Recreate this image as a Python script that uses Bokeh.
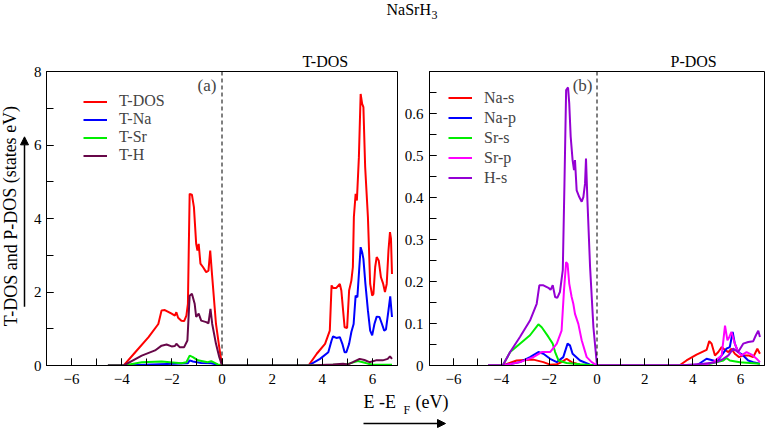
from bokeh.plotting import figure
from bokeh.models import (Range1d, Span, Legend, LegendItem, Label, Arrow,
                          NormalHead, FixedTicker)
from bokeh.layouts import column, row
from bokeh.embed import file_html
from bokeh.resources import INLINE
from bokeh.core.properties import value

FONT = "Liberation Serif"

# ---------------- data: panel (a) T-DOS ----------------
tdos_x = [-4.55, -3.92, -3.46, -2.93, -2.54, -2.41, -2.28, -2.01, -1.88, -1.82,
          -1.75, -1.62, -1.51, -1.42, -1.36, -1.29, -1.20, -1.12, -1.03, -0.98,
          -0.93, -0.86, -0.76, -0.63, -0.54, -0.47, -0.41, -0.24, -0.11, 0.0,
          3.45, 3.78, 4.11, 4.30, 4.37, 4.43, 4.56, 4.70, 4.76, 4.83,
          4.89, 4.99, 5.07, 5.16, 5.22, 5.26, 5.33, 5.38, 5.46, 5.53,
          5.59, 5.64, 5.71, 5.82, 5.91, 5.99, 6.04, 6.11, 6.17, 6.25,
          6.34, 6.43, 6.50, 6.57, 6.64, 6.70, 6.74, 6.78]
tdos_y = [0, 0, 0.36, 0.77, 1.13, 1.50, 1.51, 1.41, 1.36, 1.45,
          1.30, 1.22, 1.21, 1.36, 1.68, 4.67, 4.65, 4.31, 3.31, 3.13,
          3.31, 2.77, 2.68, 2.54, 2.58, 3.13, 2.58, 1.13, 0.50, 0.0,
          0, 0.32, 0.59, 0.95, 2.18, 2.11, 2.11, 2.22, 2.04, 1.50,
          1.04, 1.02, 2.04, 2.31, 2.68, 4.04, 4.67, 4.49, 5.67, 7.39,
          7.12, 7.03, 5.40, 4.04, 2.22, 1.90, 1.95, 2.68, 2.95, 2.86,
          2.40, 2.22, 2.00, 2.22, 3.13, 3.63, 3.45, 2.49]

tna_x = [-4.55, -3.92, -2.80, -1.88, -1.36, -1.29, -1.16, -0.83, -0.43, -0.17, 0.0,
         3.45, 3.91, 4.24, 4.37, 4.43, 4.56, 4.70, 4.80, 4.89, 4.96,
         5.07, 5.16, 5.25, 5.33, 5.40, 5.46, 5.53, 5.59, 5.64, 5.72,
         5.82, 5.91, 5.99, 6.08, 6.17, 6.28, 6.38, 6.47, 6.54, 6.64,
         6.71, 6.78]
tna_y = [0, 0, 0.03, 0.05, 0.06, 0.14, 0.11, 0.07, 0.06, 0.02, 0.0,
         0, 0.18, 0.36, 0.68, 0.79, 0.75, 0.77, 0.59, 0.36, 0.36,
         0.59, 0.91, 1.13, 1.90, 1.86, 2.49, 3.22, 3.08, 2.90, 2.22,
         1.50, 0.95, 0.82, 1.13, 1.33, 1.32, 1.13, 0.95, 0.98, 1.50,
         1.88, 1.32]

tsr_x = [-4.55, -3.92, -3.20, -2.41, -1.62, -1.42, -1.29, -1.16, -0.96, -0.57, -0.43, -0.17, 0.0,
         3.45, 4.96, 5.42, 5.62, 5.82, 6.00, 6.78]
tsr_y = [0, 0, 0.09, 0.11, 0.06, 0.09, 0.27, 0.23, 0.14, 0.09, 0.12, 0.03, 0.0,
         0, 0.03, 0.12, 0.09, 0.05, 0.03, 0.02]

th_x = [-4.55, -3.92, -3.20, -2.67, -2.41, -2.21, -2.01, -1.88, -1.82, -1.69,
        -1.51, -1.38, -1.29, -1.20, -1.09, -1.03, -0.93, -0.83, -0.63, -0.54,
        -0.46, -0.39, -0.24, -0.11, 0.0,
        3.45, 4.43, 4.83, 5.03, 5.22, 5.49, 5.68, 5.88, 6.14, 6.41, 6.61, 6.70, 6.78]
th_y = [0, 0, 0.27, 0.41, 0.54, 0.57, 0.52, 0.53, 0.59, 0.50,
        0.50, 0.68, 1.90, 1.95, 1.68, 1.32, 1.41, 1.22, 1.18, 1.15,
        1.54, 1.13, 0.59, 0.23, 0.0,
        0, 0.03, 0.05, 0.03, 0.09, 0.18, 0.15, 0.09, 0.14, 0.14, 0.18, 0.25, 0.18]

# ---------------- data: panel (b) P-DOS ----------------
nas_x = [-4.55, -3.94, -3.36, -2.66, -2.24, -1.96, -1.68, -1.48, -1.27, -1.06, -0.71, 0.0,
         3.44, 3.74, 4.16, 4.58, 4.69, 4.79, 4.93, 5.07, 5.21, 5.35,
         5.49, 5.62, 5.76, 5.94, 6.11, 6.32, 6.53, 6.70, 6.81]
nas_y = [0, 0, 0.012, 0.014, 0.008, 0.002, 0.003, 0.008, 0.016, 0.008, 0.002, 0.0,
         0, 0.012, 0.026, 0.037, 0.058, 0.052, 0.024, 0.032, 0.044, 0.037,
         0.032, 0.040, 0.028, 0.020, 0.024, 0.024, 0.020, 0.040, 0.028]

nap_x = [-4.55, -3.94, -3.22, -2.80, -2.45, -2.24, -1.96, -1.68, -1.41, -1.23, -1.13, -1.02, -0.71, -0.29, 0.0,
         3.44, 4.16, 4.58, 4.86, 5.00, 5.21, 5.41, 5.55, 5.67, 5.76,
         5.90, 6.11, 6.32, 6.53, 6.81]
nap_y = [0, 0, 0.008, 0.020, 0.032, 0.028, 0.016, 0.008, 0.020, 0.052, 0.048, 0.028, 0.012, 0.002, 0.0,
         0, 0, 0.016, 0.012, 0.008, 0.024, 0.040, 0.044, 0.080, 0.052,
         0.032, 0.024, 0.012, 0.008, 0.004]

srs_x = [-4.55, -3.94, -3.63, -3.22, -2.80, -2.45, -2.31, -2.03, -1.85, -1.75, -1.61, -1.27, -0.71, 0.0,
         3.44, 4.44, 5.28, 5.41, 5.55, 5.97, 6.81]
srs_y = [0, 0, 0.032, 0.052, 0.072, 0.098, 0.091, 0.068, 0.052, 0.032, 0.012, 0.006, 0.003, 0.0,
         0, 0, 0.012, 0.018, 0.012, 0.008, 0.004]

srp_x = [-4.55, -3.94, -3.22, -2.66, -2.31, -1.96, -1.68, -1.48, -1.38, -1.29,
         -1.23, -1.16, -1.06, -0.99, -0.92, -0.78, -0.64, -0.43, -0.22, 0.0,
         3.44, 4.44, 4.86, 5.21, 5.35, 5.45, 5.53, 5.62, 5.76, 5.90,
         6.04, 6.25, 6.46, 6.67, 6.81]
srp_y = [0, 0, 0.008, 0.020, 0.032, 0.032, 0.052, 0.083, 0.179, 0.246,
         0.242, 0.195, 0.163, 0.147, 0.123, 0.099, 0.060, 0.020, 0.008, 0.0,
         0, 0, 0.008, 0.024, 0.095, 0.060, 0.068, 0.080, 0.052, 0.032,
         0.024, 0.032, 0.026, 0.016, 0.008]

hs_x = [-4.55, -3.94, -3.63, -3.22, -2.80, -2.52, -2.41, -2.24, -2.03, -1.94,
        -1.85, -1.75, -1.66, -1.55, -1.43, -1.36, -1.29, -1.21, -1.16, -1.10,
        -1.02, -0.96, -0.92, -0.85, -0.74, -0.64, -0.57, -0.50, -0.46, -0.40,
        -0.29, -0.15, 0.0,
        3.44, 4.44, 5.00, 5.28, 5.49, 5.69, 5.90, 6.11, 6.32, 6.53, 6.64, 6.74, 6.81]
hs_y = [0, 0, 0.032, 0.068, 0.107, 0.147, 0.191, 0.191, 0.185, 0.180,
        0.191, 0.163, 0.161, 0.175, 0.227, 0.433, 0.656, 0.662, 0.624, 0.545,
        0.489, 0.465, 0.489, 0.417, 0.401, 0.390, 0.401, 0.433, 0.493, 0.393,
        0.235, 0.091, 0.0,
        0, 0.004, 0.008, 0.016, 0.024, 0.040, 0.032, 0.052, 0.056, 0.058, 0.072, 0.083, 0.068]

x_ticks = [-6, -4, -2, 0, 2, 4, 6]
x_minor = list(range(-7, 8))
a_yticks = [0, 2, 4, 6, 8]
a_yminor = list(range(0, 9))
b_yticks = [0, 0.1, 0.2, 0.3, 0.4, 0.5, 0.6]
b_yminor = [0, 0.05, 0.1, 0.15, 0.2, 0.25, 0.3, 0.35, 0.4, 0.45, 0.5, 0.55, 0.6, 0.65, 0.7]

a_series = [("T-DOS", tdos_x, tdos_y, "#ff0000"),
            ("T-Na", tna_x, tna_y, "#0000ff"),
            ("T-Sr", tsr_x, tsr_y, "#00ee00"),
            ("T-H", th_x, th_y, "#670748")]
b_series = [("Na-s", nas_x, nas_y, "#ff0000"),
            ("Na-p", nap_x, nap_y, "#0000ff"),
            ("Sr-s", srs_x, srs_y, "#00ee00"),
            ("Sr-p", srp_x, srp_y, "#ff00ff"),
            ("H-s", hs_x, hs_y, "#9400d3")]

TOP_H = 30
ROW_H = 360
BOT_H = 38
TOTAL_W = 766


def panel(width, mb_left, ymax, yticks, yminor, series, legend_loc,
          legend_h, legend_spacing, standoff_y, title, title_offset,
          label_overrides=None):
    p = figure(width=width, height=ROW_H, x_range=Range1d(-7, 7),
               y_range=Range1d(0, ymax), output_backend="svg", title=title,
               toolbar_location=None, min_border_left=mb_left,
               min_border_right=2, min_border_top=41, min_border_bottom=25)
    p.title.align = "left"
    p.title.offset = title_offset
    p.title.standoff = 3
    p.title.text_font = FONT
    p.title.text_font_size = "16px"
    p.title.text_font_style = "normal"
    p.title.text_color = "black"
    p.xgrid.visible = False
    p.ygrid.visible = False
    p.outline_line_color = "black"
    p.outline_line_width = 1
    p.background_fill_color = "white"
    p.border_fill_color = "white"
    p.xaxis.ticker = FixedTicker(ticks=x_ticks, minor_ticks=x_minor)
    p.yaxis.ticker = FixedTicker(ticks=yticks, minor_ticks=yminor)
    for ax in (p.xaxis[0], p.yaxis[0]):
        ax.major_tick_in = 7
        ax.major_tick_out = 0
        ax.minor_tick_in = 7
        ax.minor_tick_out = 0
        ax.axis_line_color = "black"
        ax.major_tick_line_color = "black"
        ax.minor_tick_line_color = "black"
        ax.major_label_text_font = FONT
        ax.major_label_text_font_size = "15px"
        ax.major_label_text_color = "black"
    p.xaxis.major_label_standoff = 8
    p.yaxis.major_label_standoff = standoff_y
    if label_overrides:
        p.yaxis.major_label_overrides = label_overrides
    p.add_layout(Span(location=0, dimension="height", line_color="black",
                      line_width=1, line_dash="4 3"))
    items = []
    for name, xs, ys, col in series:
        r = p.line(xs, ys, line_color=col, line_width=2)
        items.append(LegendItem(label=name, renderers=[r]))
    leg = Legend(items=items, location=legend_loc, label_text_font=FONT,
                 label_text_font_size="16px", glyph_width=24,
                 glyph_height=legend_h, label_height=legend_h,
                 spacing=legend_spacing, padding=0, margin=0,
                 label_standoff=12, border_line_color=None,
                 background_fill_alpha=0)
    p.add_layout(leg)
    return p


p1 = panel(369, 14, 8, a_yticks, a_yminor, a_series, (37, 201), 17, 0, 5,
           "T-DOS", 256)
p1.add_layout(Label(x=-0.22, y=7.62, text="(a)", text_align="right",
                    text_baseline="middle", text_font=FONT,
                    text_font_size="17px"))

p2 = panel(367, 30, 0.7, b_yticks, b_yminor, b_series, (19, 178), 19, 1, 6,
           "P-DOS", 241, {0: "0"})
p2.add_layout(Label(x=-0.19, y=0.6666, text="(b)", text_align="right",
                    text_baseline="middle", text_font=FONT,
                    text_font_size="17px"))


def blank(width, height):
    q = figure(width=width, height=height, x_range=Range1d(0, width),
               y_range=Range1d(0, height), output_backend="svg", title=None,
               toolbar_location=None, min_border=0,
               x_axis_location=None, y_axis_location=None)
    q.xgrid.visible = False
    q.ygrid.visible = False
    q.outline_line_color = None
    q.background_fill_color = "white"
    q.border_fill_color = "white"
    return q


def put(q, x, y, s, size, align="left"):
    q.text(x=[x], y=[y], text=[s], text_align=align,
           text_baseline="middle", text_font=value(FONT),
           text_font_size=size, text_color="black")


# left strip: y-axis title with arrow
pleft = blank(30, ROW_H)
pleft.text(x=[10], y=[183], text=["T-DOS and P-DOS (states eV)"],
           angle=1.5708, text_align="center", text_baseline="middle",
           text_font=value(FONT), text_font_size="18px", text_color="black")
pleft.add_layout(Arrow(x_start=24, y_start=72, x_end=24, y_end=280,
                       line_color="black", line_width=1.5,
                       end=NormalHead(size=8, fill_color="black",
                                      line_color="black")))

# top strip: compound title
ptop = blank(TOTAL_W, TOP_H)
put(ptop, 386, 21, "NaSrH", "16px")
put(ptop, 431, 16, "3", "12px")

# bottom strip: x-axis title with arrow
pbot = blank(TOTAL_W, BOT_H)
put(pbot, 363, 27, "E -E", "18px")
put(pbot, 403, 19, "F", "12px")
put(pbot, 415, 27, "(eV)", "18px")
pbot.add_layout(Arrow(x_start=363, y_start=5, x_end=445, y_end=5,
                      line_color="black", line_width=1.5,
                      end=NormalHead(size=8, fill_color="black",
                                     line_color="black")))

layout = column(ptop, row(pleft, p1, p2, spacing=0), pbot, spacing=0)

open("out.html", "w").write(file_html(layout, INLINE))
